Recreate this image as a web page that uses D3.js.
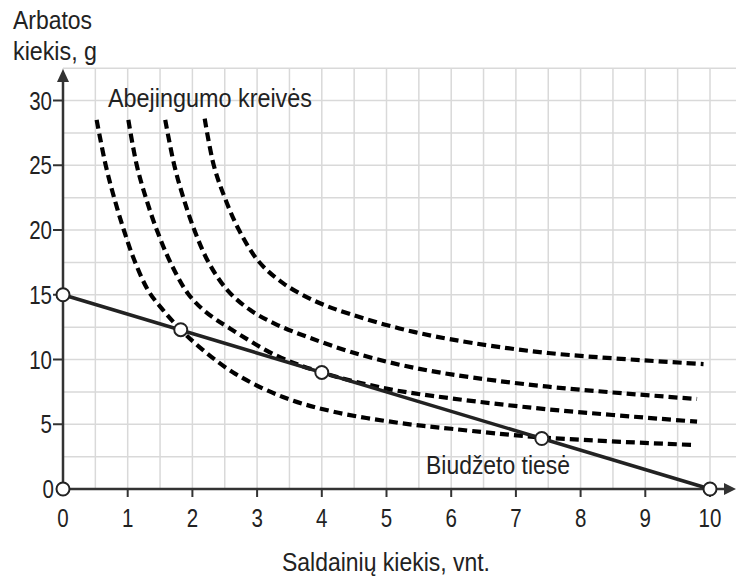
<!DOCTYPE html>
<html>
  <head>
    <meta charset="UTF-8">
    <title>Biudžeto tiesė ir abejingumo kreivės</title>
    <script src="https://d3js.org/d3.v7.min.js"></script>
    <style>
      body { margin: 0; background: #fff; }
      text { font-family: "Liberation Sans", Arial, sans-serif; fill: #222; }
    </style>
  </head>
  <body>
    <div id="chart"></div>
    <script>
      // duomenys nuskaityti nuo paveikslo
      const xTicks = [0, 1, 2, 3, 4, 5, 6, 7, 8, 9, 10];
      const yTicks = [0, 5, 10, 15, 20, 25, 30];

      const budgetLine = [[0, 15], [10, 0]];
      const budgetPoints = [[0, 15], [1.82, 12.3], [4, 9], [7.4, 3.9], [10, 0], [0, 0]];

      const curveA = [[0.52, 28.5], [0.66, 25], [0.79, 22.5], [0.94, 20], [1.1, 17.7], [1.32, 15.3], [1.55, 13.8],
        [1.82, 12.3], [2.1, 11.0], [2.63, 9.0], [3.4, 7.1], [4.2, 5.95], [5.2, 5.1], [6.0, 4.65], [7.4, 3.98], [9.75, 3.4]];
      const curveB = [[1.01, 28.5], [1.14, 25], [1.28, 22.5], [1.45, 20], [1.66, 17.5], [1.93, 15.1], [2.2, 13.7],
        [2.58, 12.4], [3.3, 10.3], [4.0, 9.0], [5.0, 7.75], [6.0, 7.0], [7.5, 6.15], [9.8, 5.2]];
      const curveC = [[1.58, 28.5], [1.72, 25], [1.86, 22.5], [2.03, 20], [2.25, 17.5], [2.55, 15.3], [2.9, 13.8],
        [3.3, 12.7], [3.8, 11.7], [4.44, 10.6], [5.2, 9.6], [6.0, 8.85], [7.5, 7.9], [9.8, 6.95]];
      const curveD = [[2.19, 28.6], [2.33, 25], [2.5, 22.5], [2.72, 20], [3.02, 17.6], [3.4, 15.9], [3.9, 14.5],
        [4.44, 13.5], [5.2, 12.4], [6.0, 11.55], [7.5, 10.5], [9.9, 9.65]];
      const indifference = [curveA, curveB, curveC, curveD];

      const width = 736;
      const height = 578;

      const svg = d3.select("#chart")
        .append("svg")
        .attr("width", width)
        .attr("height", height);

      const x = d3.scaleLinear().domain([0, 10]).range([63, 710]);
      const y = d3.scaleLinear().domain([0, 30]).range([489, 100.5]);

      // siauresnis šriftas: suspaudžiam tekstą
      function narrow(sel, k) {
        sel.each(function () {
          const w = this.getComputedTextLength();
          d3.select(this).attr("textLength", w * k).attr("lengthAdjust", "spacingAndGlyphs");
        });
      }

      // tinklelis
      const grid = svg.append("g").attr("stroke", "#d9d9d9").attr("stroke-width", 1.5);
      grid.selectAll(".vx")
        .data(d3.range(0, 10.51, 0.5))
        .enter().append("line")
        .attr("x1", d => x(d)).attr("x2", d => x(d))
        .attr("y1", y(0)).attr("y2", y(32.5));
      grid.selectAll(".hy")
        .data(d3.range(2.5, 32.51, 2.5))
        .enter().append("line")
        .attr("x1", x(0)).attr("x2", width)
        .attr("y1", d => y(d)).attr("y2", d => y(d));

      // ašys
      const axisColor = "#333";
      svg.append("line")
        .attr("x1", x(0)).attr("x2", 728)
        .attr("y1", y(0)).attr("y2", y(0))
        .attr("stroke", axisColor).attr("stroke-width", 2.5);
      svg.append("path")
        .attr("d", `M736,${y(0)} L724,${y(0) - 6} L724,${y(0) + 6} Z`)
        .attr("fill", axisColor);
      svg.append("line")
        .attr("x1", x(0)).attr("x2", x(0))
        .attr("y1", y(0)).attr("y2", 78)
        .attr("stroke", axisColor).attr("stroke-width", 2.5);
      svg.append("path")
        .attr("d", `M${x(0)},69 L${x(0) - 6},82 L${x(0) + 6},82 Z`)
        .attr("fill", axisColor);

      svg.selectAll(".xtick")
        .data(xTicks.filter(d => d > 0))
        .enter().append("line")
        .attr("x1", d => x(d)).attr("x2", d => x(d))
        .attr("y1", y(0)).attr("y2", y(0) + 8)
        .attr("stroke", axisColor).attr("stroke-width", 2);
      svg.selectAll(".ytick")
        .data(yTicks.filter(d => d > 0))
        .enter().append("line")
        .attr("x1", x(0) - 10).attr("x2", x(0))
        .attr("y1", d => y(d)).attr("y2", d => y(d))
        .attr("stroke", axisColor).attr("stroke-width", 2);

      svg.selectAll(".xlab")
        .data(xTicks)
        .enter().append("text")
        .attr("x", d => x(d)).attr("y", 527)
        .attr("text-anchor", "middle")
        .attr("font-size", 25)
        .text(d => d)
        .call(narrow, 0.82);
      svg.selectAll(".ylab")
        .data(yTicks)
        .enter().append("text")
        .attr("x", d => d === 0 ? 54 : 52).attr("y", d => y(d) + 9)
        .attr("text-anchor", "end")
        .attr("font-size", 25)
        .text(d => d)
        .call(narrow, 0.82);

      // abejingumo kreivės
      const line = d3.line()
        .x(d => x(d[0])).y(d => y(d[1]))
        .curve(d3.curveCatmullRom.alpha(0.5));
      svg.selectAll(".ic")
        .data(indifference)
        .enter().append("path")
        .attr("d", line)
        .attr("fill", "none")
        .attr("stroke", "#000")
        .attr("stroke-width", 4.2)
        .attr("stroke-dasharray", "9,5");

      // biudžeto tiesė
      svg.append("path")
        .attr("d", d3.line().x(d => x(d[0])).y(d => y(d[1]))(budgetLine))
        .attr("fill", "none")
        .attr("stroke", "#222")
        .attr("stroke-width", 3.5);

      svg.selectAll(".pt")
        .data(budgetPoints)
        .enter().append("circle")
        .attr("cx", d => x(d[0])).attr("cy", d => y(d[1]))
        .attr("r", 6.5)
        .attr("fill", "#fff")
        .attr("stroke", "#222")
        .attr("stroke-width", 2);

      // užrašai
      const label = (tx, ty, w, s, anchor) => svg.append("text")
        .attr("x", tx).attr("y", ty)
        .attr("text-anchor", anchor || "start")
        .attr("font-size", 26)
        .attr("textLength", w).attr("lengthAdjust", "spacingAndGlyphs")
        .text(s);
      label(13, 29, 79, "Arbatos");
      label(13, 60, 84, "kiekis, g");
      label(108, 107, 204, "Abejingumo kreivės");
      label(426, 474, 144, "Biudžeto tiesė");
      label(386, 571, 208, "Saldainių kiekis, vnt.", "middle");
    </script>
  </body>
</html>
